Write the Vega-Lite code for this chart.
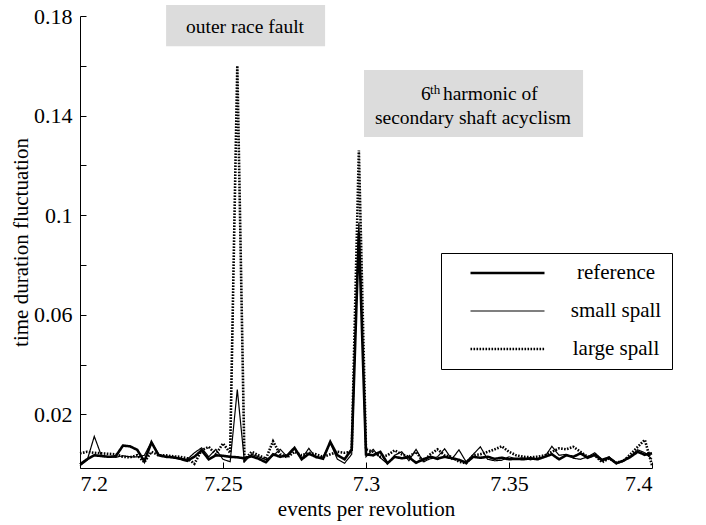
{
  "$schema": "https://vega.github.io/schema/vega-lite/v6.json",
  "width": 572,
  "height": 452,
  "autosize": {"type": "none"},
  "padding": {"left": 80, "top": 16, "right": 54, "bottom": 57},
  "background": "white",
  "config": {
    "font": "Liberation Serif",
    "view": {"stroke": null},
    "axis": {
      "domainColor": "black", "tickColor": "black", "labelColor": "black", "titleColor": "black",
      "labelFont": "Liberation Serif", "titleFont": "Liberation Serif",
      "labelFontSize": 22, "titleFontSize": 21, "titleFontWeight": "normal", "grid": false
    }
  },
  "datasets": {
    "series": [
      {"x": 7.2, "reference": 0.0000, "small spall": -0.0006, "large spall": 0.0044},
      {"x": 7.2025, "reference": 0.0020, "small spall": 0.0016, "large spall": 0.0050},
      {"x": 7.205, "reference": 0.0036, "small spall": 0.0112, "large spall": 0.0046},
      {"x": 7.2075, "reference": 0.0033, "small spall": 0.0034, "large spall": 0.0044},
      {"x": 7.21, "reference": 0.0030, "small spall": 0.0030, "large spall": 0.0042},
      {"x": 7.2125, "reference": 0.0032, "small spall": 0.0028, "large spall": 0.0040},
      {"x": 7.215, "reference": 0.0075, "small spall": 0.0034, "large spall": 0.0030},
      {"x": 7.2175, "reference": 0.0072, "small spall": 0.0030, "large spall": 0.0028},
      {"x": 7.22, "reference": 0.0058, "small spall": 0.0030, "large spall": 0.0036},
      {"x": 7.2225, "reference": 0.0012, "small spall": 0.0036, "large spall": 0.0008},
      {"x": 7.225, "reference": 0.0088, "small spall": 0.0090, "large spall": 0.0050},
      {"x": 7.2275, "reference": 0.0036, "small spall": 0.0040, "large spall": 0.0036},
      {"x": 7.23, "reference": 0.0030, "small spall": 0.0030, "large spall": 0.0036},
      {"x": 7.2325, "reference": 0.0028, "small spall": 0.0026, "large spall": 0.0032},
      {"x": 7.235, "reference": 0.0022, "small spall": 0.0024, "large spall": 0.0030},
      {"x": 7.2375, "reference": 0.0014, "small spall": 0.0020, "large spall": 0.0024},
      {"x": 7.24, "reference": 0.0030, "small spall": 0.0046, "large spall": 0.0002},
      {"x": 7.2425, "reference": 0.0056, "small spall": 0.0066, "large spall": 0.0056},
      {"x": 7.245, "reference": 0.0020, "small spall": 0.0030, "large spall": 0.0070},
      {"x": 7.2475, "reference": 0.0036, "small spall": 0.0060, "large spall": 0.0040},
      {"x": 7.25, "reference": 0.0034, "small spall": 0.0020, "large spall": 0.0084},
      {"x": 7.2525, "reference": 0.0030, "small spall": 0.0010, "large spall": 0.0046},
      {"x": 7.255, "reference": 0.0028, "small spall": 0.0300, "large spall": 0.1600},
      {"x": 7.2575, "reference": 0.0024, "small spall": 0.0010, "large spall": 0.0018},
      {"x": 7.26, "reference": 0.0032, "small spall": 0.0040, "large spall": 0.0050},
      {"x": 7.2625, "reference": 0.0022, "small spall": 0.0030, "large spall": 0.0036},
      {"x": 7.265, "reference": 0.0008, "small spall": 0.0018, "large spall": 0.0022},
      {"x": 7.2675, "reference": 0.0040, "small spall": 0.0034, "large spall": 0.0092},
      {"x": 7.27, "reference": 0.0030, "small spall": 0.0060, "large spall": 0.0040},
      {"x": 7.2725, "reference": 0.0036, "small spall": 0.0030, "large spall": 0.0028},
      {"x": 7.275, "reference": 0.0066, "small spall": 0.0064, "large spall": 0.0050},
      {"x": 7.2775, "reference": 0.0020, "small spall": 0.0022, "large spall": 0.0036},
      {"x": 7.28, "reference": 0.0042, "small spall": 0.0064, "large spall": 0.0046},
      {"x": 7.2825, "reference": 0.0030, "small spall": 0.0026, "large spall": 0.0040},
      {"x": 7.285, "reference": 0.0022, "small spall": 0.0030, "large spall": 0.0030},
      {"x": 7.2875, "reference": 0.0090, "small spall": 0.0086, "large spall": 0.0040},
      {"x": 7.29, "reference": 0.0036, "small spall": 0.0020, "large spall": 0.0050},
      {"x": 7.2925, "reference": 0.0020, "small spall": 0.0004, "large spall": 0.0046},
      {"x": 7.295, "reference": 0.0060, "small spall": 0.0040, "large spall": 0.0050},
      {"x": 7.2975, "reference": 0.0930, "small spall": 0.0970, "large spall": 0.1260},
      {"x": 7.3, "reference": 0.0040, "small spall": 0.0030, "large spall": 0.0060},
      {"x": 7.3025, "reference": 0.0036, "small spall": 0.0060, "large spall": 0.0050},
      {"x": 7.305, "reference": 0.0050, "small spall": 0.0026, "large spall": 0.0030},
      {"x": 7.3075, "reference": 0.0004, "small spall": 0.0002, "large spall": 0.0036},
      {"x": 7.31, "reference": 0.0030, "small spall": 0.0036, "large spall": 0.0056},
      {"x": 7.3125, "reference": 0.0024, "small spall": 0.0050, "large spall": 0.0040},
      {"x": 7.315, "reference": 0.0028, "small spall": 0.0014, "large spall": 0.0030},
      {"x": 7.3175, "reference": 0.0006, "small spall": 0.0060, "large spall": 0.0050},
      {"x": 7.32, "reference": 0.0020, "small spall": 0.0010, "large spall": 0.0010},
      {"x": 7.3225, "reference": 0.0030, "small spall": 0.0022, "large spall": 0.0040},
      {"x": 7.325, "reference": 0.0022, "small spall": 0.0030, "large spall": 0.0060},
      {"x": 7.3275, "reference": 0.0030, "small spall": 0.0062, "large spall": 0.0036},
      {"x": 7.33, "reference": 0.0024, "small spall": 0.0020, "large spall": 0.0030},
      {"x": 7.3325, "reference": 0.0018, "small spall": 0.0058, "large spall": 0.0010},
      {"x": 7.335, "reference": 0.0006, "small spall": 0.0010, "large spall": 0.0004},
      {"x": 7.3375, "reference": 0.0030, "small spall": 0.0040, "large spall": 0.0036},
      {"x": 7.34, "reference": 0.0026, "small spall": 0.0070, "large spall": 0.0040},
      {"x": 7.3425, "reference": 0.0030, "small spall": 0.0020, "large spall": 0.0050},
      {"x": 7.345, "reference": 0.0022, "small spall": 0.0014, "large spall": 0.0060},
      {"x": 7.3475, "reference": 0.0026, "small spall": 0.0016, "large spall": 0.0072},
      {"x": 7.35, "reference": 0.0020, "small spall": 0.0030, "large spall": 0.0050},
      {"x": 7.3525, "reference": 0.0022, "small spall": 0.0022, "large spall": 0.0036},
      {"x": 7.355, "reference": 0.0020, "small spall": 0.0026, "large spall": 0.0030},
      {"x": 7.3575, "reference": 0.0024, "small spall": 0.0018, "large spall": 0.0028},
      {"x": 7.36, "reference": 0.0020, "small spall": 0.0024, "large spall": 0.0030},
      {"x": 7.3625, "reference": 0.0030, "small spall": 0.0030, "large spall": 0.0036},
      {"x": 7.365, "reference": 0.0040, "small spall": 0.0072, "large spall": 0.0050},
      {"x": 7.3675, "reference": 0.0020, "small spall": 0.0036, "large spall": 0.0064},
      {"x": 7.37, "reference": 0.0036, "small spall": 0.0040, "large spall": 0.0060},
      {"x": 7.3725, "reference": 0.0030, "small spall": 0.0024, "large spall": 0.0070},
      {"x": 7.375, "reference": 0.0044, "small spall": 0.0020, "large spall": 0.0050},
      {"x": 7.3775, "reference": 0.0026, "small spall": 0.0030, "large spall": 0.0030},
      {"x": 7.38, "reference": 0.0038, "small spall": 0.0046, "large spall": 0.0036},
      {"x": 7.3825, "reference": 0.0016, "small spall": 0.0020, "large spall": 0.0008},
      {"x": 7.385, "reference": 0.0026, "small spall": 0.0030, "large spall": 0.0024},
      {"x": 7.3875, "reference": 0.0004, "small spall": 0.0002, "large spall": 0.0006},
      {"x": 7.39, "reference": 0.0014, "small spall": 0.0016, "large spall": 0.0014},
      {"x": 7.3925, "reference": 0.0030, "small spall": 0.0032, "large spall": 0.0040},
      {"x": 7.395, "reference": 0.0050, "small spall": 0.0058, "large spall": 0.0070},
      {"x": 7.3975, "reference": 0.0038, "small spall": 0.0046, "large spall": 0.0098},
      {"x": 7.4, "reference": 0.0044, "small spall": 0.0020, "large spall": -0.0004}
    ],
    "boxes": [
      {"x": 7.2301, "x2": 7.2857, "value": 0.1844, "value2": 0.1679},
      {"x": 7.2993, "x2": 7.3759, "value": 0.1583, "value2": 0.1314}
    ],
    "notesCenter": [
      {"x": 7.2577, "value": 0.1732, "label": "outer race fault"},
      {"x": 7.3374, "value": 0.1366, "label": "secondary shaft acyclism"}
    ],
    "notesLeft": [
      {"x": 7.3192, "value": 0.1463, "label": "6"},
      {"x": 7.3269, "value": 0.1463, "label": "harmonic of"}
    ],
    "notesSup": [
      {"x": 7.3224, "value": 0.1487, "label": "th"}
    ]
  },
  "layer": [
    {
      "data": {"name": "series"},
      "transform": [{"fold": ["reference", "small spall", "large spall"], "as": ["series", "value"]}],
      "mark": {"type": "line", "color": "black", "clip": false},
      "encoding": {
        "x": {
          "field": "x", "type": "quantitative",
          "scale": {"domain": [7.2, 7.4], "nice": false, "zero": false},
          "axis": {"values": [7.2, 7.25, 7.3, 7.35, 7.4], "format": "~g", "title": "events per revolution", "tickSize": -6, "labelPadding": 11, "titlePadding": 4}
        },
        "y": {
          "field": "value", "type": "quantitative",
          "scale": {"domain": [-0.0015, 0.18], "nice": false, "zero": false},
          "axis": {"values": [0.02, 0.04, 0.06, 0.08, 0.1, 0.12, 0.14, 0.16, 0.18], "format": "~g",
                   "labelExpr": "(round(datum.value*100) % 4 == 2) ? datum.label : ''",
                   "title": "time duration fluctuation", "tickSize": -6, "labelPadding": 14, "titlePadding": 2}
        },
        "strokeDash": {
          "field": "series", "type": "nominal",
          "scale": {"domain": ["reference", "small spall", "large spall"], "range": [[1, 0], [1, 0], [1.6, 1.4]]},
          "legend": {"orient": "none", "legendX": 361, "legendY": 237, "direction": "vertical", "title": null,
                     "symbolType": "stroke", "symbolSize": 5476, "symbolStrokeColor": "black", "symbolOffset": 18,
                     "clipHeight": 20, "rowPadding": 17, "labelOffset": 70, "labelAlign": "center",
                     "labelFontSize": 21, "labelFont": "Liberation Serif", "labelColor": "black", "labelLimit": 300,
                     "padding": 10, "strokeColor": "black", "fillColor": "white"}
        },
        "strokeWidth": {
          "field": "series", "type": "nominal",
          "scale": {"type": "ordinal", "domain": ["reference", "small spall", "large spall"], "range": [2.6, 1.2, 2.6]},
          "legend": {"orient": "none", "legendX": 361, "legendY": 237, "direction": "vertical", "title": null,
                     "symbolType": "stroke", "symbolSize": 5476, "symbolStrokeColor": "black", "symbolOffset": 18,
                     "clipHeight": 20, "rowPadding": 17, "labelOffset": 70, "labelAlign": "center",
                     "labelFontSize": 21, "labelFont": "Liberation Serif", "labelColor": "black", "labelLimit": 300,
                     "padding": 10, "strokeColor": "black", "fillColor": "white"}
        }
      }
    },
    {
      "data": {"name": "boxes"},
      "mark": {"type": "rect", "fill": "#dcdcdc", "clip": false},
      "encoding": {
        "x": {"field": "x", "type": "quantitative", "scale": {"domain": [7.2, 7.4], "nice": false, "zero": false},
              "axis": {"values": [7.2, 7.25, 7.3, 7.35, 7.4], "format": "~g", "title": "events per revolution", "tickSize": -6, "labelPadding": 11, "titlePadding": 4}},
        "x2": {"field": "x2"},
        "y": {"field": "value", "type": "quantitative", "scale": {"domain": [-0.0015, 0.18], "nice": false, "zero": false},
              "axis": {"values": [0.02, 0.04, 0.06, 0.08, 0.1, 0.12, 0.14, 0.16, 0.18], "format": "~g",
                   "labelExpr": "(round(datum.value*100) % 4 == 2) ? datum.label : ''",
                   "title": "time duration fluctuation", "tickSize": -6, "labelPadding": 14, "titlePadding": 2}},
        "y2": {"field": "value2"}
      }
    },
    {
      "data": {"name": "notesCenter"},
      "mark": {"type": "text", "align": "center", "baseline": "alphabetic", "fontSize": 19.5, "font": "Liberation Serif", "color": "black", "clip": false},
      "encoding": {
        "x": {"field": "x", "type": "quantitative", "scale": {"domain": [7.2, 7.4], "nice": false, "zero": false},
              "axis": {"values": [7.2, 7.25, 7.3, 7.35, 7.4], "format": "~g", "title": "events per revolution", "tickSize": -6, "labelPadding": 11, "titlePadding": 4}},
        "y": {"field": "value", "type": "quantitative", "scale": {"domain": [-0.0015, 0.18], "nice": false, "zero": false},
              "axis": {"values": [0.02, 0.04, 0.06, 0.08, 0.1, 0.12, 0.14, 0.16, 0.18], "format": "~g",
                   "labelExpr": "(round(datum.value*100) % 4 == 2) ? datum.label : ''",
                   "title": "time duration fluctuation", "tickSize": -6, "labelPadding": 14, "titlePadding": 2}},
        "text": {"field": "label"}
      }
    },
    {
      "data": {"name": "notesLeft"},
      "mark": {"type": "text", "align": "left", "baseline": "alphabetic", "fontSize": 19.5, "font": "Liberation Serif", "color": "black", "clip": false},
      "encoding": {
        "x": {"field": "x", "type": "quantitative", "scale": {"domain": [7.2, 7.4], "nice": false, "zero": false},
              "axis": {"values": [7.2, 7.25, 7.3, 7.35, 7.4], "format": "~g", "title": "events per revolution", "tickSize": -6, "labelPadding": 11, "titlePadding": 4}},
        "y": {"field": "value", "type": "quantitative", "scale": {"domain": [-0.0015, 0.18], "nice": false, "zero": false},
              "axis": {"values": [0.02, 0.04, 0.06, 0.08, 0.1, 0.12, 0.14, 0.16, 0.18], "format": "~g",
                   "labelExpr": "(round(datum.value*100) % 4 == 2) ? datum.label : ''",
                   "title": "time duration fluctuation", "tickSize": -6, "labelPadding": 14, "titlePadding": 2}},
        "text": {"field": "label"}
      }
    },
    {
      "data": {"name": "notesSup"},
      "mark": {"type": "text", "align": "left", "baseline": "alphabetic", "fontSize": 13, "font": "Liberation Serif", "color": "black", "clip": false},
      "encoding": {
        "x": {"field": "x", "type": "quantitative", "scale": {"domain": [7.2, 7.4], "nice": false, "zero": false},
              "axis": {"values": [7.2, 7.25, 7.3, 7.35, 7.4], "format": "~g", "title": "events per revolution", "tickSize": -6, "labelPadding": 11, "titlePadding": 4}},
        "y": {"field": "value", "type": "quantitative", "scale": {"domain": [-0.0015, 0.18], "nice": false, "zero": false},
              "axis": {"values": [0.02, 0.04, 0.06, 0.08, 0.1, 0.12, 0.14, 0.16, 0.18], "format": "~g",
                   "labelExpr": "(round(datum.value*100) % 4 == 2) ? datum.label : ''",
                   "title": "time duration fluctuation", "tickSize": -6, "labelPadding": 14, "titlePadding": 2}},
        "text": {"field": "label"}
      }
    }
  ]
}
